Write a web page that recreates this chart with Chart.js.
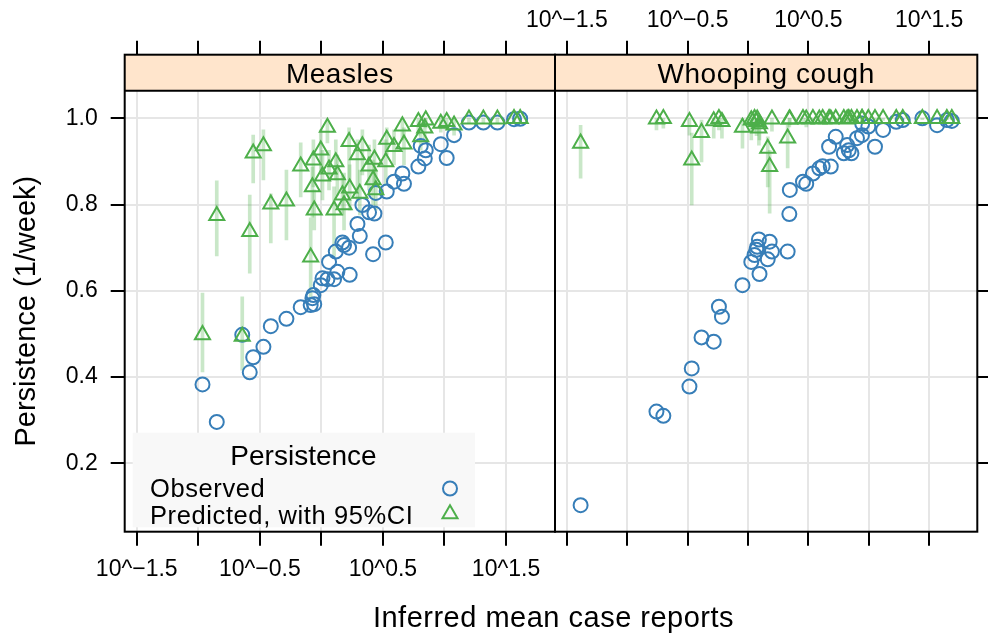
<!DOCTYPE html>
<html><head><meta charset="utf-8">
<script src="https://cdn.jsdelivr.net/npm/chart.js@4/dist/chart.umd.min.js"></script>
<style>
html,body{margin:0;padding:0;background:#fff;}
#wrap{position:relative;width:988px;height:634px;overflow:hidden;}
canvas{position:absolute;left:0;top:0;}
</style></head><body>
<div id="wrap"><canvas id="c1" width="988" height="634"></canvas><canvas id="c2" width="988" height="634"></canvas></div>
<script>
// ---------- data ----------
const panelNames = ['Measles', 'Whooping cough'];
const xTickValues = [-1.5, -1, -0.5, 0, 0.5, 1, 1.5];
const xTickLabels = ['10^\u22121.5', '', '10^\u22120.5', '', '10^0.5', '', '10^1.5'];
const yTickValues = [0.2, 0.4, 0.6, 0.8, 1.0];
const yTickLabels = ['0.2', '0.4', '0.6', '0.8', '1.0'];
const legendTitle = 'Persistence';
const seriesNames = ['Observed', 'Predicted, with 95%CI'];
const xTitle = 'Inferred mean case reports';
const yTitle = 'Persistence (1/week)';

// log10 of inferred mean case reports
const measlesLogX = [-0.966,-0.85,-0.643,-0.582,-0.554,-0.471,-0.411,-0.284,-0.168,-0.087,-0.073,-0.065,-0.058,-0.005,0.009,0.049,0.062,0.103,0.117,0.13,0.171,0.184,0.225,0.23,0.293,0.312,0.333,0.387,0.431,0.42,0.442,0.523,0.531,0.59,0.658,0.671,0.788,0.807,0.848,0.84,0.97,1.018,1.078,1.199,1.316,1.43,1.565,1.615];
const measlesObs = [0.383,0.296,0.498,0.411,0.446,0.47,0.518,0.535,0.562,0.567,0.583,0.59,0.569,0.613,0.629,0.627,0.667,0.627,0.691,0.644,0.712,0.706,0.7,0.637,0.755,0.727,0.799,0.782,0.779,0.685,0.827,0.712,0.83,0.853,0.872,0.848,0.888,0.936,0.926,0.907,0.94,0.908,0.961,0.99,0.99,0.99,0.998,0.999];
const measlesPred = [0.498,0.774,0.494,0.737,0.919,0.936,0.801,0.808,0.889,0.678,0.841,0.903,0.787,0.926,0.866,0.979,0.882,0.787,0.899,0.869,0.822,0.799,0.946,0.838,0.915,0.826,0.936,0.889,0.905,0.857,0.834,0.899,0.951,0.934,0.982,0.94,0.992,0.957,0.996,0.977,0.988,0.992,0.984,0.998,0.998,0.998,0.999,0.999];
const measlesLo = [0.412,0.681,0.416,0.641,0.85,0.857,0.711,0.718,0.818,0.586,0.771,0.841,0.741,0.873,0.811,0.943,0.834,0.678,0.857,0.822,0.776,0.741,0.857,0.787,0.811,0.776,0.869,0.834,0.845,0.799,0.787,0.845,0.915,0.892,0.95,0.892,0.961,0.926,0.978,0.95,0.968,0.973,0.961,0.99,0.99,0.99,0.992,0.993];
const measlesHi = [0.595,0.855,0.586,0.822,0.961,0.973,0.825,0.88,0.943,0.769,0.887,0.95,0.834,0.973,0.926,0.996,0.926,0.841,0.95,0.915,0.869,0.873,0.978,0.892,0.95,0.88,0.973,0.938,0.95,0.903,0.88,0.95,0.978,0.973,1.0,0.978,1.0,0.991,1.0,1.0,1.0,1.0,1.0,1.0,1.0,1.0,1.0,1.0];

const whoopLogX = [-1.386,-0.758,-0.701,-0.485,-0.466,-0.385,-0.284,-0.241,-0.216,-0.046,0.027,0.054,0.07,0.076,0.09,0.095,0.163,0.179,0.198,0.328,0.342,0.346,0.455,0.482,0.537,0.59,0.618,0.671,0.685,0.726,0.793,0.821,0.834,0.856,0.902,0.943,0.945,0.996,1.051,1.118,1.227,1.281,1.443,1.565,1.646,1.687];
const whoopObs = [0.103,0.32,0.31,0.378,0.42,0.492,0.482,0.563,0.54,0.613,0.667,0.683,0.695,0.702,0.719,0.639,0.673,0.714,0.691,0.691,0.778,0.834,0.853,0.848,0.872,0.884,0.889,0.934,0.888,0.957,0.919,0.938,0.926,0.919,0.954,0.961,0.988,0.981,0.934,0.973,0.992,0.996,1.0,0.984,0.996,0.994];
const whoopPred = [0.942,0.998,0.999,0.992,0.903,0.967,0.994,0.999,0.992,0.979,0.996,0.999,0.992,0.998,0.977,0.987,0.93,0.888,0.998,0.954,0.998,0.998,0.999,0.998,0.999,0.998,0.999,0.999,0.998,0.999,0.999,0.998,0.999,0.999,0.999,0.999,0.999,0.999,0.999,0.999,0.999,0.999,0.999,0.999,0.999,0.999];
const whoopLo = [0.861,0.973,0.977,0.961,0.799,0.899,0.954,0.973,0.954,0.931,0.95,0.97,0.96,0.975,0.938,0.95,0.841,0.78,0.97,0.885,0.98,0.985,0.985,0.98,0.99,0.985,0.99,0.99,0.985,0.99,0.99,0.99,0.992,0.99,0.992,0.993,0.994,0.994,0.995,0.995,0.996,0.996,0.997,0.997,0.997,0.997];
const whoopHi = [0.984,1,1,1,0.966,0.996,1,1,1,1,1,1,1,1,1,1,0.957,0.926,1,0.984,1,1,1,1,1,1,1,1,1,1,1,1,1,1,1,1,1,1,1,1,1,1,1,1,1,1];

// ---------- style / layout constants ----------
const FONT = "'Liberation Sans', Arial, Helvetica, sans-serif";
const BLUE = '#377EB8', GREEN = '#4DAF4A', BAR = 'rgba(77,175,74,0.3)';
const GRID = '#e6e6e6', STRIP = '#ffe5cc';
const X_MIN = -1.598, X_MAX = 1.898;
const Y_MIN = 0.0414, Y_MAX = 1.1475, PANEL_TOP = 1.064;
const AREA = {top: 54.7, bottom: 531.7, left: 124.7, mid: 555, right: 983.3};
const CIRCLE_R = 7, TRI_R = 8.7, MARK_W = 2;

Chart.defaults.font.family = FONT;
Chart.defaults.color = '#000';
Chart.defaults.animation = false;

function setLS(ctx, v) { if ('letterSpacing' in ctx) ctx.letterSpacing = v; }

function drawSym(ctx, style, x, y, r, color) {
  ctx.save();
  ctx.strokeStyle = color; ctx.lineWidth = MARK_W;
  ctx.beginPath();
  if (style === 'circle') {
    ctx.arc(x, y, r, 0, Math.PI * 2);
  } else {
    let a = 0;
    ctx.moveTo(x + Math.sin(a) * r, y - Math.cos(a) * r);
    a += 2 * Math.PI / 3;
    ctx.lineTo(x + Math.sin(a) * r, y - Math.cos(a) * r);
    a += 2 * Math.PI / 3;
    ctx.lineTo(x + Math.sin(a) * r, y - Math.cos(a) * r);
    ctx.closePath();
  }
  ctx.stroke();
  ctx.restore();
}

const panelPlugin = {
  id: 'panel',
  beforeDatasetsDraw(chart, args, opts) {
    const ctx = chart.ctx, a = chart.chartArea, y = chart.scales.y;
    const sb = y.getPixelForValue(PANEL_TOP);
    ctx.save();
    ctx.fillStyle = STRIP;
    ctx.fillRect(a.left, a.top, a.right - a.left, sb - a.top);
    ctx.fillStyle = '#000';
    ctx.font = '28px ' + FONT;
    setLS(ctx, '0.5px');
    ctx.textAlign = 'center';
    ctx.textBaseline = 'alphabetic';
    ctx.fillText(opts.title, (a.left + a.right) / 2, sb - 7.4);
    ctx.restore();
  },
  afterDraw(chart, args, opts) {
    const ctx = chart.ctx, a = chart.chartArea, y = chart.scales.y;
    const sb = y.getPixelForValue(PANEL_TOP);
    ctx.save();
    if (opts.legend) {
      // legend key
      ctx.fillStyle = '#f8f8f8';
      ctx.fillRect(132.7, 432.7, 342.3, 94.6);
      ctx.fillStyle = '#000';
      ctx.textBaseline = 'alphabetic';
      ctx.font = '28px ' + FONT;
      ctx.textAlign = 'center';
      ctx.fillText(legendTitle, 303.5, 465);
      ctx.font = '25.5px ' + FONT;
      setLS(ctx, '0.6px');
      ctx.textAlign = 'left';
      ctx.fillText(seriesNames[0], 150, 497);
      ctx.fillText(seriesNames[1], 150, 523.5);
      setLS(ctx, '0px');
      drawSym(ctx, 'circle', 450, 488.5, CIRCLE_R, BLUE);
      drawSym(ctx, 'triangle', 450, 514, TRI_R, GREEN);
      // axis titles
      ctx.font = '29px ' + FONT;
      ctx.textAlign = 'center';
      setLS(ctx, '0.5px');
      ctx.fillText(xTitle, 553.5, 626.7);
      setLS(ctx, '0px');
      ctx.save();
      ctx.translate(35, (AREA.top + 36 + AREA.bottom) / 2);
      ctx.rotate(-Math.PI / 2);
      ctx.fillText(yTitle, 0, 0);
      ctx.restore();
    }
    // panel border and strip line
    ctx.strokeStyle = '#000';
    ctx.lineWidth = 2;
    ctx.strokeRect(a.left, a.top, a.right - a.left, a.bottom - a.top);
    ctx.beginPath();
    ctx.moveTo(a.left, sb); ctx.lineTo(a.right, sb);
    ctx.stroke();
    ctx.restore();
  }
};

function xScale(position, showLabels, pad, h) {
  return {
    type: 'linear', position: position, axis: 'x', min: X_MIN, max: X_MAX,
    bounds: 'data', offset: false,
    afterBuildTicks: s => { s.ticks = xTickValues.map(v => ({value: v})); },
    afterFit: s => { s.height = h; },
    ticks: {
      autoSkip: false, maxRotation: 0, minRotation: 0, padding: pad,
      font: {size: 23},
      callback: v => showLabels ? xTickLabels[xTickValues.indexOf(v)] : ''
    },
    grid: {
      offset: false, drawOnChartArea: position === 'bottom', color: GRID, lineWidth: 2,
      tickColor: '#000', tickWidth: 2, tickLength: 14
    },
    border: {display: false}
  };
}

function yScale(position, showLabels, w) {
  return {
    type: 'linear', position: position, min: Y_MIN, max: Y_MAX, bounds: 'data',
    afterBuildTicks: s => { s.ticks = yTickValues.map(v => ({value: v})); },
    afterFit: s => { s.width = w; },
    ticks: {
      autoSkip: false, padding: 13, font: {size: 23},
      callback: v => showLabels ? yTickLabels[yTickValues.indexOf(v)] : ''
    },
    grid: {color: GRID, lineWidth: 2, tickColor: '#000', tickWidth: 2, tickLength: 14},
    border: {display: false}
  };
}

function makePanel(id, idx, xs, obs, pred, lo, hi) {
  const first = idx === 0;
  return new Chart(document.getElementById(id), {
    type: 'scatter',
    data: {
      datasets: [
        {
          type: 'bar', label: 'CI',
          data: xs.map((x, i) => ({x: x, y: [lo[i], hi[i]]})),
          backgroundColor: BAR, borderWidth: 0, barThickness: 3, grouped: false, order: 3
        },
        {
          label: seriesNames[0],
          data: xs.map((x, i) => ({x: x, y: obs[i]})),
          pointStyle: 'circle', pointRadius: CIRCLE_R, pointBorderWidth: MARK_W,
          borderColor: BLUE, backgroundColor: 'rgba(0,0,0,0)', order: 2
        },
        {
          label: seriesNames[1],
          data: xs.map((x, i) => ({x: x, y: pred[i]})),
          pointStyle: 'triangle', pointRadius: TRI_R, pointBorderWidth: MARK_W,
          borderColor: GREEN, backgroundColor: 'rgba(0,0,0,0)', order: 1
        }
      ]
    },
    options: {
      responsive: false, devicePixelRatio: 1, events: [],
      layout: {padding: first ? {left: 0, right: 988 - AREA.mid, top: 0, bottom: 0}
                              : {left: AREA.mid, right: 0, top: 0, bottom: 0}},
      plugins: {legend: {display: false}, tooltip: {enabled: false},
                panel: {title: panelNames[idx], legend: first}},
      scales: {
        x: xScale('bottom', first, 10, 634 - AREA.bottom),
        xTop: xScale('top', !first, 6, AREA.top),
        y: first ? yScale('left', true, AREA.left) : yScale('right', false, 988 - AREA.right)
      }
    },
    plugins: [panelPlugin]
  });
}

makePanel('c1', 0, measlesLogX, measlesObs, measlesPred, measlesLo, measlesHi);
makePanel('c2', 1, whoopLogX, whoopObs, whoopPred, whoopLo, whoopHi);
</script>
</body></html>
